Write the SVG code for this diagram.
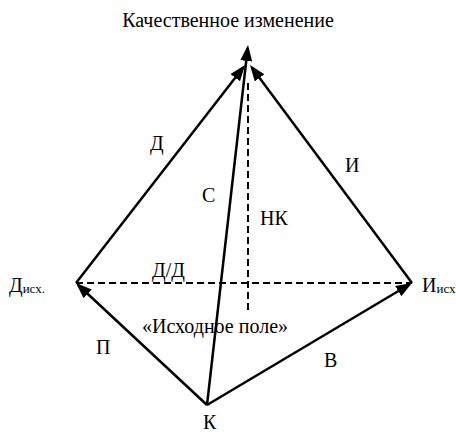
<svg xmlns="http://www.w3.org/2000/svg" width="456" height="434" viewBox="0 0 456 434" font-family="'Liberation Serif', 'Times New Roman', 'DejaVu Serif', serif">
<style>
text{font-family:'Liberation Serif','Times New Roman','DejaVu Serif',serif;fill:#000;font-size:20px}
.sub{font-size:13px}
.solid{stroke:#000;stroke-width:2.5;fill:none}
.dash{stroke:#000;stroke-width:2;fill:none;stroke-dasharray:7,4}
.arr{marker-end:url(#ah)}
</style>
<defs>
<marker id="ah" viewBox="0 0 16 12" refX="13" refY="6" markerWidth="16" markerHeight="12" orient="auto" markerUnits="userSpaceOnUse">
<path d="M0,0 L16,6 L0,12 Z" fill="#000"/>
</marker>
</defs>
<rect width="456" height="434" fill="#fff"/>
<g id="node-apex"><text x="228" y="27" text-anchor="middle">Качественное изменение</text></g>
<g id="node-d-isx"><text x="9" y="292">Д<tspan class="sub" dy="1">исх.</tspan></text></g>
<g id="node-i-isx"><text x="422" y="292">И<tspan class="sub" dy="1">исх</tspan></text></g>
<g id="node-k"><text x="203" y="429">К</text></g>
<g id="connectors">
<line class="dash" x1="76" y1="283" x2="412" y2="283"/>
<line class="dash" x1="248" y1="83" x2="248" y2="312"/>
<line class="solid arr" x1="207" y1="405" x2="247.7" y2="48"/>
<line class="solid arr" x1="76" y1="283" x2="243.2" y2="67.4"/>
<line class="solid arr" x1="412" y1="283" x2="251.8" y2="67.4"/>
<line class="solid arr" x1="207" y1="405" x2="78.2" y2="285"/>
<line class="solid arr" x1="207" y1="405" x2="409.4" y2="284.5"/>
<text x="150" y="150">Д</text>
<text x="345" y="172">И</text>
<text x="202" y="202">С</text>
<text x="260" y="225">НК</text>
<text x="152" y="277">Д/Д</text>
<text x="142" y="333">«Исходное поле»</text>
<text x="96" y="354">П</text>
<text x="324" y="367">В</text>
</g>
</svg>
